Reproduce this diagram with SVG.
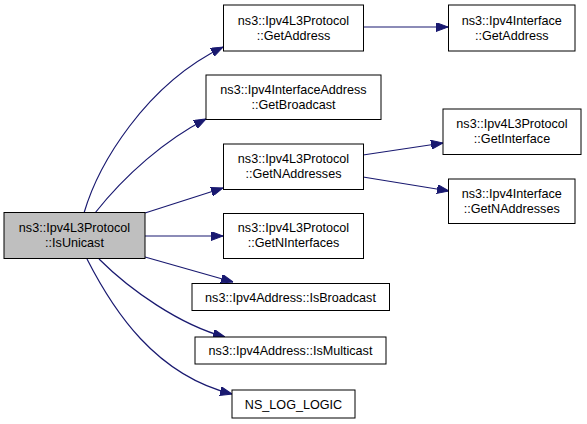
<svg xmlns="http://www.w3.org/2000/svg" width="587" height="424" viewBox="0 0 587 424">
<style>
.n rect{fill:#fff;stroke:#000;stroke-width:1}
.n.main rect{fill:#bfbfbf}
.n text{font-family:"Liberation Sans",Arial,sans-serif;font-size:12.6px;fill:#000;text-anchor:middle}
.e path{fill:none;stroke:#191970;stroke-width:1.2;marker-end:url(#ah)}
</style>
<defs>
<marker id="ah" viewBox="0 0 12 9" refX="12" refY="4.5" markerWidth="12" markerHeight="9" markerUnits="userSpaceOnUse" orient="auto">
<path d="M0,0 L12,4.5 L0,9 z" fill="#191970" stroke="#191970"/>
</marker>
</defs>
<rect width="587" height="424" fill="#fff"/>
<g id="edges" class="e">
<path d="M84,213 C98,165 145,85 223,47"/>
<path d="M95,213 C125,175 165,140 206,119"/>
<path d="M145,213 L223,188"/>
<path d="M145,236 L223,236"/>
<path d="M145,257 L233,282"/>
<path d="M99,259 C130,290 180,325 225,337"/>
<path d="M87,259 C113,310 155,375 232,394"/>
<path d="M363,27 L448,27"/>
<path d="M363,155 L443,143"/>
<path d="M363,177 L449,191"/>
</g>
<g id="main" class="n main">
<rect x="4" y="212.5" width="141" height="46"/>
<text x="74.5" y="232">ns3::Ipv4L3Protocol</text>
<text x="74.5" y="247">::IsUnicast</text>
</g>
<g id="l3GetAddress" class="n">
<rect x="223.5" y="5" width="140" height="46"/>
<text x="293.5" y="24.5">ns3::Ipv4L3Protocol</text>
<text x="293.5" y="39.5">::GetAddress</text>
</g>
<g id="getBroadcast" class="n">
<rect x="206" y="75" width="175" height="44.5"/>
<text x="293.5" y="93.5">ns3::Ipv4InterfaceAddress</text>
<text x="293.5" y="108.5">::GetBroadcast</text>
</g>
<g id="getNAddresses" class="n">
<rect x="223.5" y="144" width="140" height="45.5"/>
<text x="293.5" y="163">ns3::Ipv4L3Protocol</text>
<text x="293.5" y="178">::GetNAddresses</text>
</g>
<g id="getNInterfaces" class="n">
<rect x="223.5" y="213.5" width="140" height="45"/>
<text x="293.5" y="232">ns3::Ipv4L3Protocol</text>
<text x="293.5" y="247">::GetNInterfaces</text>
</g>
<g id="isBroadcast" class="n">
<rect x="192" y="283.5" width="197.5" height="27"/>
<text x="290.5" y="301.5">ns3::Ipv4Address::IsBroadcast</text>
</g>
<g id="isMulticast" class="n">
<rect x="195" y="337" width="191" height="27"/>
<text x="290.5" y="355">ns3::Ipv4Address::IsMulticast</text>
</g>
<g id="nsLogLogic" class="n">
<rect x="232" y="390" width="123" height="28"/>
<text x="293.5" y="408.5">NS_LOG_LOGIC</text>
</g>
<g id="ifGetAddress" class="n">
<rect x="448.5" y="5" width="126.5" height="46"/>
<text x="511.75" y="24.5">ns3::Ipv4Interface</text>
<text x="511.75" y="39.5">::GetAddress</text>
</g>
<g id="getInterface" class="n">
<rect x="443" y="109" width="138" height="45.5"/>
<text x="512" y="128">ns3::Ipv4L3Protocol</text>
<text x="512" y="143">::GetInterface</text>
</g>
<g id="ifGetNAddresses" class="n">
<rect x="448.5" y="179" width="126.5" height="44.5"/>
<text x="511.75" y="197.5">ns3::Ipv4Interface</text>
<text x="511.75" y="212.5">::GetNAddresses</text>
</g>
</svg>
